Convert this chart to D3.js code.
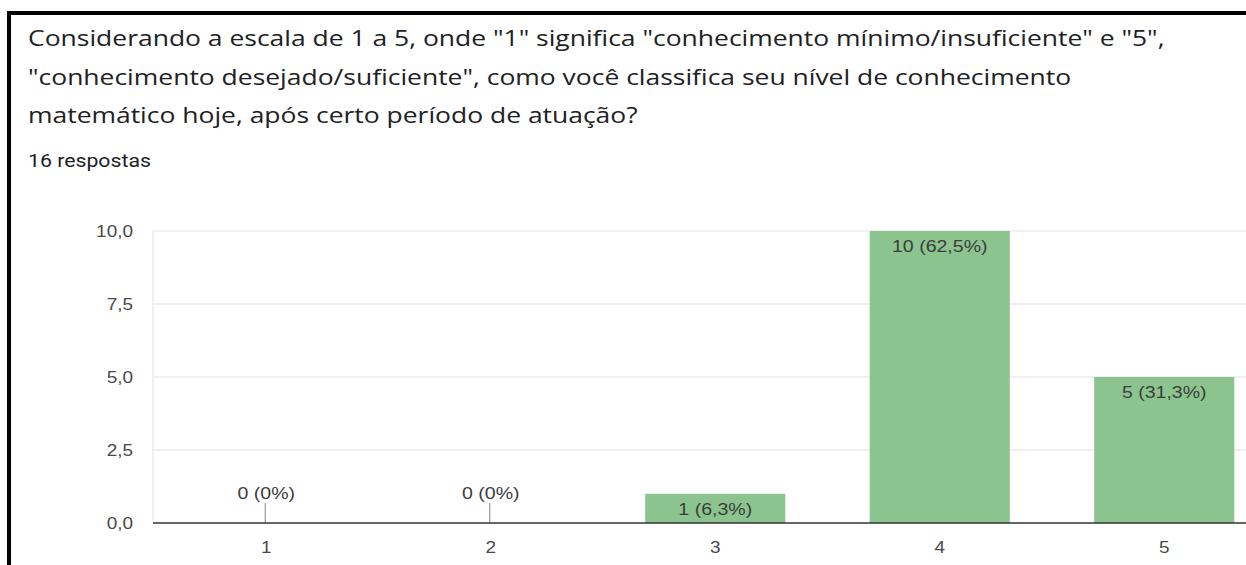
<!DOCTYPE html>
<html>
<head>
    <script src="https://cdn.jsdelivr.net/npm/d3@7"></script>
    <style>
        body {margin: 0; font-family: Roboto, Arial, sans-serif; background: #fff;}
        svg {display: block;}
        .grid line {stroke: #ebebeb; stroke-width: 1.5px;}
        .title {font-family: "Open Sans", Roboto, sans-serif; font-size: 22px; fill: #202124;}
        .count {font-size: 18.5px; fill: #202124;}
        .tick-label {font-family: Arial, "Liberation Sans", sans-serif; font-size: 16.5px; fill: #4a4a4a;}
        .bar-label {font-family: Arial, "Liberation Sans", sans-serif; font-size: 17px; fill: #3c3c3c;}
    </style>
</head>
<body>
    <svg width="1246" height="565"></svg>
    <script>
        // Data
        let categories = ["1", "2", "3", "4", "5"];
        let counts = [0, 0, 1, 10, 5];
        let percents = ["0%", "0%", "6,3%", "62,5%", "31,3%"];
        let yTicks = [0, 2.5, 5, 7.5, 10];
        let yTickLabels = ["0,0", "2,5", "5,0", "7,5", "10,0"];
        let titleLines = [
            "Considerando a escala de 1 a 5, onde \"1\" significa \"conhecimento mínimo/insuficiente\" e \"5\",",
            "\"conhecimento desejado/suficiente\", como você classifica seu nível de conhecimento",
            "matemático hoje, após certo período de atuação?"
        ];
        let responses = "16 respostas";

        let svg = d3.select("svg");
        // the screenshot is a bit stretched sideways, so text is widened too
        let sx = 1.15;

        function label(x, y, str, cls, anchor, k) {
            return svg.append("text")
                .attr("class", cls)
                .attr("text-anchor", anchor || "start")
                .attr("transform", `translate(${x},${y}) scale(${k || sx},1)`)
                .text(str);
        }

        // frame on left and top
        svg.append("line").attr("x1", 9).attr("x2", 9).attr("y1", 11).attr("y2", 565)
            .attr("stroke", "#000").attr("stroke-width", 4);
        svg.append("line").attr("x1", 7).attr("x2", 1246).attr("y1", 13).attr("y2", 13)
            .attr("stroke", "#000").attr("stroke-width", 4);

        // title, widened so the first line ends where it does in the picture
        let t0 = label(28, 46, titleLines[0], "title", "start", 1);
        let tk = 1137 / t0.node().getComputedTextLength();
        t0.attr("transform", `translate(28,46) scale(${tk},1)`);
        titleLines.slice(1).forEach((s, i) => label(28, 84.5 + i * 38.5, s, "title", "start", tk));

        label(28, 167, responses, "count");

        // Scales
        let left = 153, bandW = 224.5;
        let x = d3.scaleBand()
            .domain(categories)
            .range([left, left + bandW * categories.length])
            .paddingInner(0.376)
            .paddingOuter(0.188);
        let y = d3.scaleLinear().domain([0, 10]).range([523, 231]);
        let cx = i => x(categories[i]) + x.bandwidth() / 2;

        // gridlines
        svg.append("g").attr("class", "grid")
            .selectAll("line")
            .data(yTicks.filter(d => d > 0))
            .enter()
            .append("line")
            .attr("x1", left).attr("x2", 1246)
            .attr("y1", d => y(d)).attr("y2", d => y(d));
        svg.append("line").attr("x1", left).attr("x2", left)
            .attr("y1", y(10)).attr("y2", y(0))
            .attr("stroke", "#ebebeb").attr("stroke-width", 1.5);

        // y labels
        yTicks.forEach((d, i) => label(133, y(d) + 6, yTickLabels[i], "tick-label", "end"));

        // bars
        svg.selectAll(".bar")
            .data(counts)
            .enter()
            .append("rect")
            .attr("fill", "#8bc48f")
            .attr("x", (d, i) => x(categories[i]) + 1)
            .attr("width", x.bandwidth())
            .attr("y", d => y(d))
            .attr("height", d => y(0) - y(d));

        // zero stubs
        counts.forEach((c, i) => {
            if (c !== 0) return;
            svg.append("line")
                .attr("x1", cx(i)).attr("x2", cx(i))
                .attr("y1", y(0) - 20).attr("y2", y(0))
                .attr("stroke", "#999").attr("stroke-width", 1.2);
        });

        // baseline
        svg.append("line").attr("x1", left).attr("x2", 1246)
            .attr("y1", y(0)).attr("y2", y(0))
            .attr("stroke", "#333").attr("stroke-width", 1.5);

        // bar labels
        counts.forEach((d, i) => {
            label(cx(i) + 1, d === 0 ? y(0) - 24 : y(d) + 21, d + " (" + percents[i] + ")", "bar-label", "middle");
        });

        // x labels
        categories.forEach((d, i) => label(cx(i) + 1, 553, d, "tick-label", "middle"));
    </script>
</body>
</html>
